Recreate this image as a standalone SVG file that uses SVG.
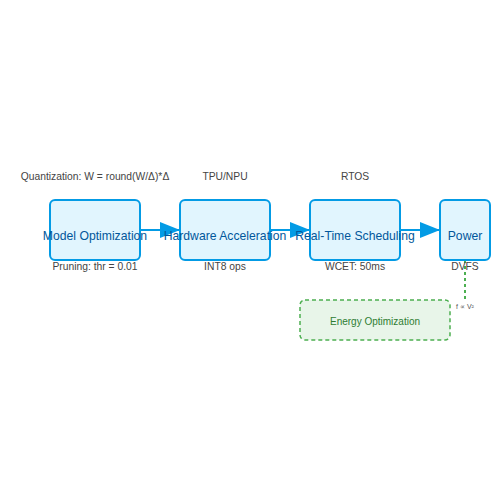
<svg xmlns="http://www.w3.org/2000/svg" width="500" height="500" viewBox="0 0 500 500">
<style>
.node rect{fill:#e1f5fe;stroke:#039be5;stroke-width:2}
.title{font-family:"Liberation Sans",Arial,sans-serif;font-size:12.2px;fill:#01579b;text-anchor:middle}
.lbl{font-family:"Liberation Sans",Arial,sans-serif;font-size:10.3px;fill:#444;text-anchor:middle}
.conn line{stroke:#039be5;stroke-width:2}
</style>
<defs>
<marker id="arr" markerWidth="10" markerHeight="8" refX="10" refY="4" orient="auto" markerUnits="strokeWidth">
<polygon points="0,0 10,4 0,8" fill="#039be5"/>
</marker>
</defs>
<rect width="500" height="500" fill="#fff"/>
<g id="connectors" class="conn">
<line x1="140" y1="230" x2="180" y2="230" marker-end="url(#arr)"/>
<line x1="270" y1="230" x2="310" y2="230" marker-end="url(#arr)"/>
<line x1="400" y1="230" x2="440" y2="230" marker-end="url(#arr)"/>
<line x1="465" y1="260" x2="465" y2="299" style="stroke:#4caf50;stroke-width:2;stroke-dasharray:3,3"/>
<text x="465" y="309" style="font-family:'Liberation Sans','DejaVu Sans',sans-serif;font-size:7px;fill:#555;text-anchor:middle">f ∝ V²</text>
</g>
<g id="model" class="node">
<rect x="50" y="200" width="90" height="60" rx="5"/>
<text class="title" x="95" y="240">Model Optimization</text>
<text class="lbl" x="95" y="180">Quantization: W = round(W/Δ)*Δ</text>
<text class="lbl" x="95" y="270">Pruning: thr = 0.01</text>
</g>
<g id="hardware" class="node">
<rect x="180" y="200" width="90" height="60" rx="5"/>
<text class="title" x="225" y="240">Hardware Acceleration</text>
<text class="lbl" x="225" y="180">TPU/NPU</text>
<text class="lbl" x="225" y="270">INT8 ops</text>
</g>
<g id="scheduling" class="node">
<rect x="310" y="200" width="90" height="60" rx="5"/>
<text class="title" x="355" y="240">Real-Time Scheduling</text>
<text class="lbl" x="355" y="180">RTOS</text>
<text class="lbl" x="355" y="270">WCET: 50ms</text>
</g>
<g id="power" class="node">
<rect x="440" y="200" width="50" height="60" rx="5"/>
<text class="title" x="465" y="240">Power</text>
<text class="lbl" x="465" y="270">DVFS</text>
</g>
<g id="energy">
<rect x="300" y="300" width="150" height="40" rx="5" fill="#e8f5e9" stroke="#4caf50" stroke-width="1.5" stroke-dasharray="4,3"/>
<text x="375" y="325" style="font-family:'Liberation Sans',Arial,sans-serif;font-size:10px;fill:#2e7d32;text-anchor:middle">Energy Optimization</text>
</g>
</svg>
